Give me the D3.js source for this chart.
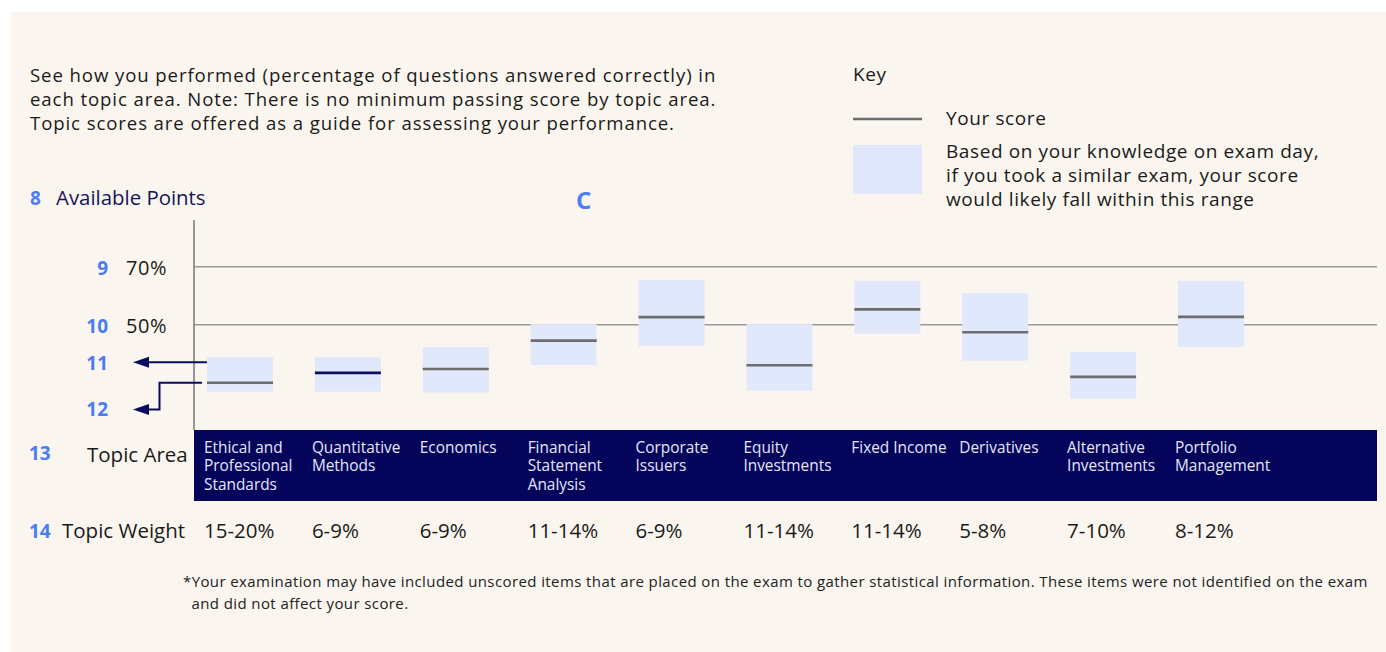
<!DOCTYPE html>
<html>
<head>
<meta charset="utf-8">
<script src="https://cdn.jsdelivr.net/npm/d3@7"></script>
<style>
  body { margin: 0; background: #fff; }
  svg { display: block; font-family: "Open Sans", sans-serif; }
</style>
</head>
<body>
<script>
// topic areas, one line break per wrapped line in the header band
const topics = [
    'Ethical and\nProfessional\nStandards',
    'Quantitative\nMethods',
    'Economics',
    'Financial\nStatement\nAnalysis',
    'Corporate\nIssuers',
    'Equity\nInvestments',
    'Fixed Income',
    'Derivatives',
    'Alternative\nInvestments',
    'Portfolio\nManagement'
];
const weights = ['15-20%', '6-9%', '6-9%', '11-14%', '6-9%', '11-14%', '11-14%', '5-8%', '7-10%', '8-12%'];
// percentage correct, and the likely range around it
const scores    = [30.0, 33.4, 34.7, 44.5, 52.6, 36.0, 55.3, 47.4, 32.0, 52.7];
const rangeLow  = [26.9, 26.9, 26.6, 36.1, 42.7, 27.2, 46.9, 37.6, 24.5, 42.3];
const rangeHigh = [38.8, 38.8, 42.3, 50.2, 65.4, 50.2, 65.1, 60.9, 40.6, 65.1];
const gridTicks = [70, 50];
const gridMarkers = ['9', '10'];
const headerLines = [
    'See how you performed (percentage of questions answered correctly) in',
    'each topic area. Note: There is no minimum passing score by topic area.',
    'Topic scores are offered as a guide for assessing your performance.'
];
const keyLines = [
    'Based on your knowledge on exam day,',
    'if you took a similar exam, your score',
    'would likely fall within this range'
];
const footLines = [
    '*Your examination may have included unscored items that are placed on the exam to gather statistical information. These items were not identified on the exam',
    'and did not affect your score.'
];

const W = 1386, H = 652;
const blue = '#4a7cf6', navy = '#04045a', ink = '#1a1a1a', boxFill = '#e1e8fc', scoreGrey = '#6d6d6d';

const svg = d3.select('body').append('svg')
    .attr('width', W)
    .attr('height', H);

svg.append('rect')
    .attr('x', 11).attr('y', 12)
    .attr('width', W - 11).attr('height', H - 12)
    .attr('fill', '#faf6ef');

const x = d3.scalePoint().domain(topics).range([207, 1178]);
const y = d3.scaleLinear().domain([0, 100]).range([469.7, 179.7]);
const boxW = 66;
const plotLeft = 194, plotRight = 1377, bandTop = 430, bandH = 71;

// header text
svg.append('g').selectAll('text')
    .data(headerLines)
    .enter().append('text')
    .attr('x', 30)
    .attr('y', (d, i) => 81.5 + i * 24.3)
    .attr('font-size', 18.6)
    .attr('letter-spacing', 0.9)
    .attr('fill', ink)
    .text(d => d);

// key
const key = svg.append('g').attr('letter-spacing', 0.6);
key.append('text').attr('x', 853).attr('y', 81).attr('font-size', 19).attr('fill', ink).text('Key');
key.append('line')
    .attr('x1', 853).attr('x2', 922).attr('y1', 119).attr('y2', 119)
    .attr('stroke', scoreGrey).attr('stroke-width', 2.5);
key.append('text').attr('x', 946).attr('y', 125).attr('font-size', 19).attr('fill', ink).text('Your score');
key.append('rect').attr('x', 853).attr('y', 145).attr('width', 69).attr('height', 49).attr('fill', boxFill);
key.selectAll('text.range')
    .data(keyLines)
    .enter().append('text')
    .attr('class', 'range')
    .attr('x', 946)
    .attr('y', (d, i) => 157.5 + i * 24.3)
    .attr('font-size', 19)
    .attr('fill', ink)
    .text(d => d);

// available points title
svg.append('text').attr('x', 30).attr('y', 205).attr('font-size', 19).attr('font-weight', 700).attr('fill', blue).text('8');
svg.append('text').attr('x', 56).attr('y', 205).attr('font-size', 20.4).attr('fill', '#14145a').text('Available Points');
svg.append('text').attr('x', 576).attr('y', 209).attr('font-size', 24).attr('font-weight', 700).attr('fill', blue).text('C');

// grid and axis
svg.append('g').selectAll('line')
    .data(gridTicks)
    .enter().append('line')
    .attr('x1', plotLeft).attr('x2', plotRight)
    .attr('y1', d => y(d)).attr('y2', d => y(d))
    .attr('stroke', '#999').attr('stroke-width', 1.5);

svg.append('line')
    .attr('x1', plotLeft).attr('x2', plotLeft)
    .attr('y1', 220).attr('y2', bandTop)
    .attr('stroke', '#777').attr('stroke-width', 1.5);

svg.append('g').selectAll('text')
    .data(gridTicks)
    .enter().append('text')
    .attr('x', 126)
    .attr('y', d => y(d) + 8)
    .attr('font-size', 20)
    .attr('letter-spacing', 0.6)
    .attr('fill', ink)
    .text(d => d + '%');

svg.append('g').selectAll('text')
    .data(gridMarkers)
    .enter().append('text')
    .attr('x', 108)
    .attr('y', (d, i) => y(gridTicks[i]) + 8)
    .attr('text-anchor', 'end')
    .attr('font-size', 19).attr('font-weight', 700)
    .attr('fill', blue)
    .text(d => d);

// range boxes and score lines
svg.append('g').selectAll('rect')
    .data(topics)
    .enter().append('rect')
    .attr('x', d => x(d))
    .attr('y', (d, i) => y(rangeHigh[i]))
    .attr('width', boxW)
    .attr('height', (d, i) => y(rangeLow[i]) - y(rangeHigh[i]))
    .attr('fill', boxFill);

svg.append('g').selectAll('line')
    .data(topics)
    .enter().append('line')
    .attr('x1', d => x(d))
    .attr('x2', d => x(d) + boxW)
    .attr('y1', (d, i) => y(scores[i]))
    .attr('y2', (d, i) => y(scores[i]))
    .attr('stroke', (d, i) => i === 1 ? '#0c0c5e' : scoreGrey)
    .attr('stroke-width', 2.6);

// annotation arrows 11 and 12, hooked to the first topic
const arrows = svg.append('g').attr('stroke', '#0b0b5e').attr('stroke-width', 2).attr('fill', 'none');
const first = topics[0];
const yTop = y(rangeHigh[0]) + 5, yScore = y(scores[0]), yLow = 409.5;
arrows.append('line').attr('x1', x(first)).attr('x2', 147).attr('y1', yTop).attr('y2', yTop);
arrows.append('path').attr('d', `M${x(first) - 5},${yScore}H159.5V${yLow}H147`);
svg.append('g').selectAll('path')
    .data([yTop, yLow])
    .enter().append('path')
    .attr('d', d => `M133,${d}L149,${d - 5.5}L149,${d + 5.5}Z`)
    .attr('fill', '#0b0b5e');
svg.append('g').selectAll('text')
    .data([['11', yTop + 8], ['12', yLow + 6]])
    .enter().append('text')
    .attr('x', 108).attr('y', d => d[1])
    .attr('text-anchor', 'end')
    .attr('font-size', 19).attr('font-weight', 700)
    .attr('fill', blue)
    .text(d => d[0]);

// topic band
svg.append('rect')
    .attr('x', plotLeft).attr('y', bandTop)
    .attr('width', plotRight - plotLeft).attr('height', bandH)
    .attr('fill', navy);

svg.append('g').selectAll('text')
    .data(topics)
    .enter().append('text')
    .attr('font-size', 15.4)
    .attr('fill', '#e4e6fb')
    .each(function(d) {
        d3.select(this).selectAll('tspan')
            .data(d.split('\n'))
            .enter().append('tspan')
            .attr('x', x(d) - 3)
            .attr('y', (l, i) => 453 + i * 18.4)
            .text(l => l);
    });

svg.append('text').attr('x', 29).attr('y', 460).attr('font-size', 19).attr('font-weight', 700).attr('fill', blue).text('13');
svg.append('text').attr('x', 87).attr('y', 462).attr('font-size', 20.5).attr('fill', ink).text('Topic Area');
svg.append('text').attr('x', 29).attr('y', 537.5).attr('font-size', 19).attr('font-weight', 700).attr('fill', blue).text('14');
svg.append('text').attr('x', 62).attr('y', 537.5).attr('font-size', 20.5).attr('fill', ink).text('Topic Weight');

svg.append('g').selectAll('text')
    .data(weights)
    .enter().append('text')
    .attr('x', (d, i) => x(topics[i]) - 3)
    .attr('y', 537.5)
    .attr('font-size', 20.5)
    .attr('fill', ink)
    .text(d => d);

// footnote
svg.append('g').selectAll('text')
    .data(footLines)
    .enter().append('text')
    .attr('x', (d, i) => i === 0 ? 183 : 191.5)
    .attr('y', (d, i) => 587 + i * 22)
    .attr('font-size', 15)
    .attr('letter-spacing', 0.4)
    .attr('fill', '#222')
    .text(d => d);
</script>
</body>
</html>
